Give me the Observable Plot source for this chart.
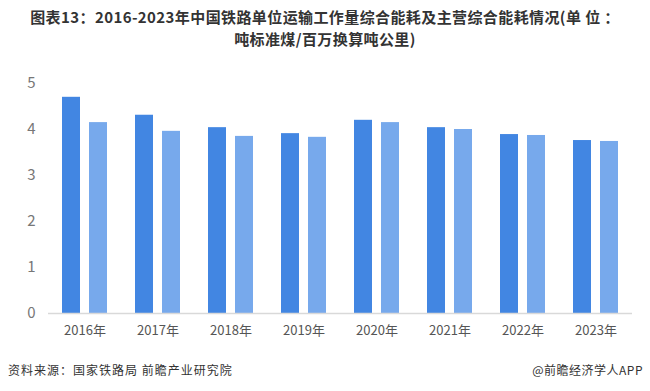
<!DOCTYPE html>
<html>
<head>
<meta charset="utf-8">
<script src="https://cdn.jsdelivr.net/npm/d3@7"></script>
<script src="https://cdn.jsdelivr.net/npm/@observablehq/plot@0.6"></script>
<style>
  html, body { margin: 0; padding: 0; background: #fff; }
  body { width: 650px; height: 391px; overflow: hidden; font-family: "Noto Sans CJK SC", "Noto Sans", sans-serif; }
  #title { height: 50px; box-sizing: border-box; padding-top: 6px; text-align: center; font-weight: bold; font-size: 15px; line-height: 22px; color: #333; letter-spacing: 0.4px; }
  #chart { height: 300px; }
  #footer { position: relative; height: 41px; font-size: 12px; color: #333; }
  #source { position: absolute; left: 8px; top: 11px; letter-spacing: 1px; }
  #credit { position: absolute; right: 7px; top: 11px; letter-spacing: 0.5px; }
</style>
</head>
<body>
<div id="title">图表13：2016-2023年中国铁路单位运输工作量综合能耗及主营综合能耗情况(单 位 ：<br>吨标准煤/百万换算吨公里)</div>
<div id="chart"></div>
<div id="footer"><span id="source">资料来源：国家铁路局 前瞻产业研究院</span><span id="credit">@前瞻经济学人APP</span></div>
<script>
const years = ["2016年", "2017年", "2018年", "2019年", "2020年", "2021年", "2022年", "2023年"];
const seriesNames = ["单位运输工作量综合能耗", "主营综合能耗"];
const unitWork = [4.70, 4.31, 4.04, 3.91, 4.20, 4.04, 3.89, 3.76];
const mainOps = [4.15, 3.96, 3.85, 3.83, 4.15, 4.00, 3.87, 3.74];
const colors = ["#4286E2", "#77A9EC"];
const yTicks = [0, 1, 2, 3, 4, 5];

const rows = [];
years.forEach((yr, i) => {
  rows.push({year: yr, series: seriesNames[0], value: unitWork[i]});
  rows.push({year: yr, series: seriesNames[1], value: mainOps[i]});
});

const chart = Plot.plot({
  width: 650,
  height: 300,
  marginTop: 33,
  marginBottom: 37,
  marginLeft: 45,
  marginRight: 16,
  style: {fontFamily: "'Noto Sans CJK SC', 'Noto Sans', sans-serif", background: "#fff"},
  fx: {domain: years, padding: 0, label: null},
  x: {domain: seriesNames, paddingInner: 0.33, paddingOuter: 0.51, axis: null},
  y: {domain: [0, 5], label: null},
  color: {domain: seriesNames, range: colors},
  marks: [
    Plot.axisY({ticks: yTicks, tickFormat: d => String(d), tickSize: 0, tickPadding: 13, fontSize: 15, fill: "#777", label: null}),
    Plot.axisFx({anchor: "bottom", tickSize: 0, tickPadding: 12, fontSize: 13, fill: "#555", label: null}),
    Plot.barY(rows, {fx: "year", x: "series", y: "value", fill: "series"}),
    Plot.ruleY([0], {stroke: "#d9d9d9", strokeWidth: 1.5})
  ]
});
document.getElementById("chart").appendChild(chart);
</script>
</body>
</html>
